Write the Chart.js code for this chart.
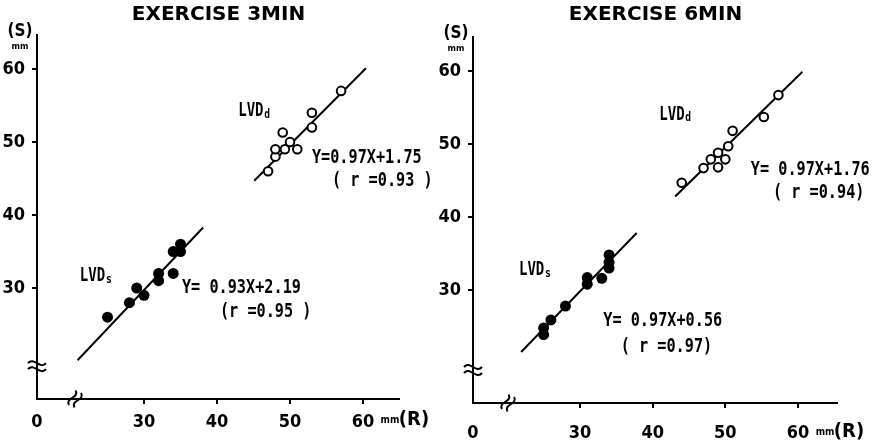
<!DOCTYPE html>
<html>
<head>
<meta charset="utf-8">
<script src="https://cdn.jsdelivr.net/npm/chart.js@4"></script>
<style>
  html, body { margin: 0; padding: 0; background: #fff; }
  #wrap { position: relative; width: 876px; height: 446px; }
  .box { position: absolute; top: 0; width: 438px; height: 446px; }
</style>
</head>
<body>
<div id="wrap">
  <div class="box" style="left:0"><canvas id="c3" width="438" height="446"></canvas></div>
  <div class="box" style="left:438px"><canvas id="c6" width="438" height="446"></canvas></div>
</div>
<script>
// tick values (axis is broken, origin labelled 0)
var xTickVals = [30, 40, 50, 60];
var yTickVals = [30, 40, 50, 60];

// EXERCISE 3MIN
var ex3SysX = [25, 28, 29, 30, 32, 32, 34, 34, 35, 35];
var ex3SysY = [26, 28, 30, 29, 32, 31, 35, 32, 36, 35];
var ex3DiaX = [47, 48, 48, 49, 49.3, 50, 51, 53, 53, 57];
var ex3DiaY = [46, 48, 49, 51.3, 49, 50, 49, 52, 54, 57];
var ex3SysLineX = [20.9, 38.1];
var ex3SysLineY = [20.1, 38.3];
var ex3DiaLineX = [45.1, 60.4];
var ex3DiaLineY = [44.7, 60.1];

// EXERCISE 6MIN
var ex6SysX = [25, 25, 26, 28, 31, 31, 33, 34, 34, 34];
var ex6SysY = [23.9, 24.8, 25.9, 27.8, 31.7, 30.8, 31.6, 33, 33.8, 34.8];
var ex6DiaX = [44, 47, 48, 49, 49, 50, 50.4, 51, 55.3, 57.3];
var ex6DiaY = [44.7, 46.7, 47.9, 48.8, 46.8, 47.9, 49.7, 51.8, 53.7, 56.7];
var ex6SysLineX = [21.9, 37.8];
var ex6SysLineY = [21.5, 37.8];
var ex6DiaLineX = [43.1, 60.6];
var ex6DiaLineY = [42.8, 59.9];

var COND = "'DejaVu Sans Condensed','DejaVu Sans',sans-serif";
var MONO = "'DejaVu Sans Mono',monospace";

function pts(xs, ys) {
  return xs.map(function (x, i) { return { x: x, y: ys[i] }; });
}

// little wavy break mark, two s-curves
function breakMark(c, cx, cy, ang, half) {
  c.save();
  c.translate(cx, cy);
  c.rotate(ang);
  c.strokeStyle = '#000';
  c.lineWidth = 2;
  [-3, 3].forEach(function (k) {
    c.beginPath();
    c.moveTo(-half, k);
    c.bezierCurveTo(-3, k - 7, 3, k + 7, half, k);
    c.stroke();
  });
  c.restore();
}

var notesPlugin = {
  id: 'notes',
  afterDraw: function (chart, args, opts) {
    var c = chart.ctx, xs = chart.scales.x, ys = chart.scales.y;
    c.save();
    c.fillStyle = '#000';
    c.textBaseline = 'middle';
    opts.items.forEach(function (it) {
      var px = xs.getPixelForValue(it.x) + (it.ox || 0);
      var py = ys.getPixelForValue(it.y) + (it.oy || 0);
      var sx = it.sx || 1;
      c.save();
      c.translate(px, py);
      c.scale(sx, 1);
      c.font = it.font;
      c.textAlign = it.align || 'left';
      c.fillText(it.text, 0, 0);
      if (it.sub) {
        var w = c.measureText(it.text).width;
        c.font = it.subFont;
        c.fillText(it.sub, w + 1, 3);
      }
      c.restore();
    });
    breakMark(c, xs.getPixelForValue(opts.xMin), ys.getPixelForValue(opts.yBreak), 0, 9);
    breakMark(c, xs.getPixelForValue(opts.xBreak), ys.getPixelForValue(opts.yMin), -1.15, 8);
    c.restore();
  }
};

function build(id, o) {
  var eqFont = 'bold 20px ' + MONO;
  var lvdFont = 'bold 19px ' + MONO;
  var subFont = 'bold 13px ' + MONO;
  return new Chart(document.getElementById(id), {
    type: 'scatter',
    data: {
      datasets: [
        { data: pts(o.sysX, o.sysY), pointRadius: 5.5, backgroundColor: '#000', borderColor: '#000', borderWidth: 0 },
        { data: pts(o.diaX, o.diaY), pointRadius: 4.3, backgroundColor: '#fff', borderColor: '#000', borderWidth: 2 },
        { data: pts(o.sysLineX, o.sysLineY), showLine: true, pointRadius: 0, borderColor: '#000', borderWidth: 2 },
        { data: pts(o.diaLineX, o.diaLineY), showLine: true, pointRadius: 0, borderColor: '#000', borderWidth: 2 }
      ]
    },
    options: {
      responsive: false,
      animation: false,
      layout: { padding: { top: 0, right: o.padRight, left: 0, bottom: 0 } },
      plugins: {
        legend: { display: false },
        tooltip: { enabled: false },
        title: {
          display: true, text: o.title, fullSize: false, color: '#000',
          font: { family: "'DejaVu Sans',sans-serif", size: 20, weight: 'bold' },
          padding: { top: 3, bottom: o.titleBottom }
        },
        notes: {
          xMin: o.xMin, yMin: o.yMin, xBreak: o.xBreak, yBreak: o.yBreak,
          items: [
            { text: 'LVD', sub: 's', x: o.sysLabel[0], y: o.sysLabel[1], font: lvdFont, subFont: subFont, sx: 0.74 },
            { text: 'LVD', sub: 'd', x: o.diaLabel[0], y: o.diaLabel[1], font: lvdFont, subFont: subFont, sx: 0.74 },
            { text: o.diaEq, x: o.diaEqPos[0], y: o.diaEqPos[1], font: eqFont, sx: 0.76 },
            { text: o.diaR, x: o.diaRPos[0], y: o.diaRPos[1], font: eqFont, sx: 0.76 },
            { text: o.sysEq, x: o.sysEqPos[0], y: o.sysEqPos[1], font: eqFont, sx: 0.76 },
            { text: o.sysR, x: o.sysRPos[0], y: o.sysRPos[1], font: eqFont, sx: 0.76 },
            { text: '(S)', x: o.xMin, y: o.yMax, ox: -17, oy: -3, align: 'center', font: 'bold 17px ' + COND },
            { text: 'mm', x: o.xMin, y: o.yMax, ox: -17, oy: 12, align: 'center', font: 'bold 9px ' + COND },
            { text: 'mm', x: 60, y: o.yMin, ox: 27, oy: o.rLabelDy, align: 'center', font: 'bold 10px ' + COND },
            { text: '(R)', x: 60, y: o.yMin, ox: 51, oy: o.rLabelDy, align: 'center', font: 'bold 20px ' + COND }
          ]
        }
      },
      scales: {
        x: {
          type: 'linear', min: o.xMin, max: o.xMax,
          afterFit: function (s) { s.height = o.xAxisH; },
          afterBuildTicks: function (s) {
            s.ticks = [o.xMin].concat(xTickVals).map(function (v) { return { value: v }; });
          },
          ticks: {
            color: '#000', padding: o.xTickPad, maxRotation: 0, autoSkip: false,
            font: { family: COND, size: 18, weight: 'bold' },
            callback: function (v) { return v === o.xMin ? '0' : String(v); }
          },
          grid: {
            drawOnChartArea: false, drawTicks: true, tickLength: 5, color: '#000',
            lineWidth: function (ctx) { return ctx.tick && ctx.tick.value === o.xMin ? 0 : 2; }
          },
          border: { display: true, color: '#000', width: 2 }
        },
        y: {
          type: 'linear', min: o.yMin, max: o.yMax,
          afterFit: function (s) { s.width = o.yAxisW; },
          afterBuildTicks: function (s) {
            s.ticks = yTickVals.map(function (v) { return { value: v }; });
          },
          ticks: {
            color: '#000', padding: 7, autoSkip: false,
            font: { family: COND, size: 18, weight: 'bold' }
          },
          grid: { drawOnChartArea: false, drawTicks: true, tickLength: 5, color: '#000', lineWidth: 2 },
          border: { display: true, color: '#000', width: 2 }
        }
      }
    },
    plugins: [notesPlugin]
  });
}

build('c3', {
  title: 'EXERCISE 3MIN',
  sysX: ex3SysX, sysY: ex3SysY, diaX: ex3DiaX, diaY: ex3DiaY,
  sysLineX: ex3SysLineX, sysLineY: ex3SysLineY, diaLineX: ex3DiaLineX, diaLineY: ex3DiaLineY,
  xMin: 15.34, xMax: 65.07, yMin: 14.8, yMax: 64.66,
  xBreak: 20.55, yBreak: 19.3,
  yAxisW: 37, xAxisH: 47, padRight: 38, titleBottom: 8, xTickPad: 8, rLabelDy: 21,
  sysLabel: [21.2, 31.6], diaLabel: [42.9, 54.2],
  diaEq: 'Y=0.97X+1.75', diaEqPos: [53.0, 47.8],
  diaR: '( r =0.93 )', diaRPos: [55.75, 44.66],
  sysEq: 'Y= 0.93X+2.19', sysEqPos: [35.2, 30.0],
  sysR: '(r =0.95 )', sysRPos: [40.4, 26.7]
});

build('c6', {
  title: 'EXERCISE 6MIN',
  sysX: ex6SysX, sysY: ex6SysY, diaX: ex6DiaX, diaY: ex6DiaY,
  sysLineX: ex6SysLineX, sysLineY: ex6SysLineY, diaLineX: ex6DiaLineX, diaLineY: ex6DiaLineY,
  xMin: 15.28, xMax: 65.5, yMin: 14.52, yMax: 64.66,
  xBreak: 20.1, yBreak: 19.04,
  yAxisW: 35, xAxisH: 43, padRight: 38, titleBottom: 10, xTickPad: 15, rLabelDy: 29,
  sysLabel: [21.6, 32.7], diaLabel: [40.9, 54.0],
  diaEq: 'Y= 0.97X+1.76', diaEqPos: [53.5, 46.4],
  diaR: '( r =0.94)', diaRPos: [56.55, 43.3],
  sysEq: 'Y= 0.97X+0.56', sysEqPos: [33.2, 25.75],
  sysR: '( r =0.97)', sysRPos: [35.6, 22.2]
});
</script>
</body>
</html>
